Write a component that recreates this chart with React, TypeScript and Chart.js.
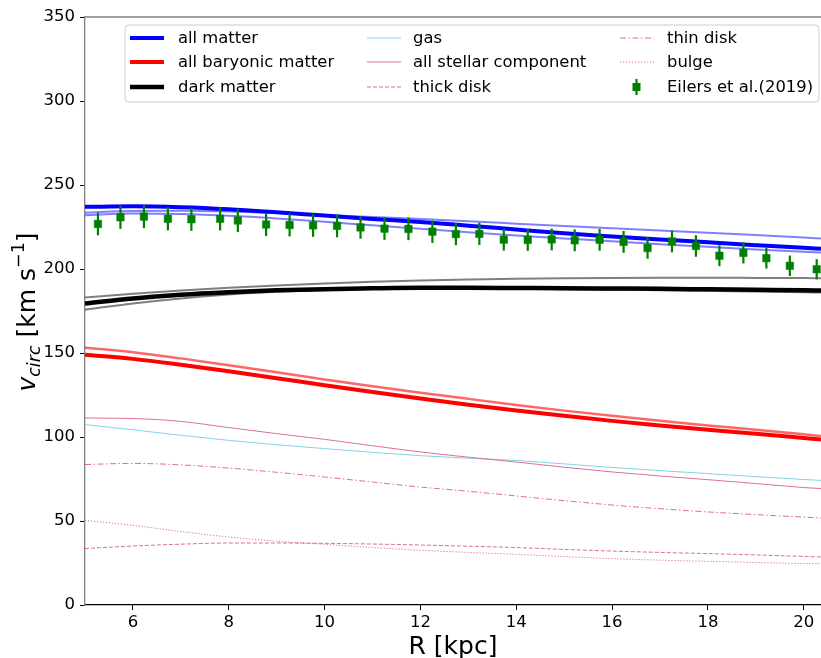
import React, { useEffect, useRef } from 'react';
import { Chart, registerables } from 'chart.js';
Chart.register(...registerables);

const FONT = '"DejaVu Sans", sans-serif';

// Model radii [kpc]
const R = [5, 6, 7, 8, 9, 10, 11, 12, 13, 14, 15, 16, 17, 18, 19, 20, 20.36];

// Circular velocity curves [km/s]
const allMatter = [237, 237.3, 236.8, 235.6, 233.8, 231.8, 229.8, 228, 225.8, 223.5, 221.3, 219.4, 217.6, 215.9, 214.2, 212.6, 212.1];
const allMatterUpper = [233.5, 234.5, 234.6, 234.2, 233.3, 232.2, 231, 229.7, 228.4, 227, 225.6, 224.2, 222.9, 221.6, 220.2, 218.7, 218.2];
const allMatterLower = [232, 233, 232.7, 231.7, 230.1, 228.1, 226, 223.9, 221.9, 220, 218.2, 216.5, 214.8, 213.2, 211.6, 210.2, 209.8];

const darkMatter = [179.5, 182.5, 184.7, 186.2, 187.3, 188, 188.5, 188.8, 188.8, 188.7, 188.6, 188.4, 188.2, 187.9, 187.6, 187.3, 187.2];
const darkMatterUpper = [183, 185.3, 187.2, 188.8, 190.2, 191.4, 192.4, 193.2, 193.8, 194.2, 194.5, 194.7, 194.8, 194.8, 194.7, 194.6, 194.5];
const darkMatterLower = [175.8, 179.5, 182.5, 184.8, 186.4, 187.5, 188.1, 188.4, 188.5, 188.3, 188, 187.7, 187.4, 187, 186.6, 186.2, 186];

const baryonic = [149, 146.5, 143, 139.1, 135, 130.8, 126.8, 122.9, 119.2, 115.8, 112.6, 109.6, 106.9, 104.3, 101.9, 99.4, 98.5];
const baryonicAlt = [153.2, 150.5, 146.8, 142.7, 138.5, 134.2, 130.2, 126.4, 122.7, 119.1, 115.7, 112.6, 109.7, 106.9, 104.3, 101.6, 100.6];

const gas = [107.4, 104.3, 101, 98, 95.4, 93.1, 90.9, 88.9, 87.4, 86, 84, 81.9, 80, 78.2, 76.4, 74.7, 74.2];
const stellar = [111.3, 111, 109.3, 105.6, 102, 98.6, 94.8, 91.1, 88, 85.1, 82, 79.2, 76.8, 74.6, 72.3, 69.9, 69.3];
const thinDisk = [83.6, 84.3, 83.4, 81.5, 79, 76.2, 73.2, 70.2, 67.7, 64.9, 62.1, 59.5, 57.3, 55.4, 53.8, 52.3, 51.8];
const thickDisk = [33.6, 35.1, 36.2, 36.9, 36.9, 36.7, 36.3, 35.7, 35, 34.2, 33.1, 32.1, 31.3, 30.6, 29.8, 28.9, 28.6];
const bulge = [50.4, 47.4, 43.7, 40.5, 38, 36.1, 34.2, 32.6, 31.3, 30.2, 28.8, 27.6, 26.7, 26, 25.3, 24.7, 24.6];

// Eilers et al. (2019) measurements
const eilersR = [5.27, 5.74, 6.23, 6.73, 7.22, 7.82, 8.19, 8.78, 9.27, 9.76, 10.26, 10.75, 11.25, 11.75, 12.25, 12.74, 13.23, 13.74, 14.24, 14.74, 15.22, 15.74, 16.24, 16.74, 17.25, 17.75, 18.24, 18.74, 19.22, 19.71, 20.27];
const eilersV = [226.83, 230.8, 231.2, 229.88, 229.61, 229.91, 228.86, 226.5, 226.2, 225.94, 225.68, 224.73, 224.02, 223.86, 222.23, 220.77, 220.92, 217.47, 217.31, 217.6, 217.07, 217.38, 216.14, 212.52, 216.41, 213.7, 207.89, 209.6, 206.45, 201.91, 199.84];
const eilersErr = [6.8, 6.9, 6.9, 6.9, 6.9, 6.9, 6.9, 6.8, 6.8, 6.8, 6.8, 6.7, 6.7, 6.7, 6.7, 6.6, 6.6, 6.5, 6.5, 6.5, 6.5, 6.5, 6.5, 6.4, 6.5, 6.4, 6.2, 6.3, 6.2, 6.1, 6.0];

const xTicks = [6, 8, 10, 12, 14, 16, 18, 20];

const PINK = '#DB7093';
const SKY = '#87CEEB';
const GREEN = '#008000';

const pts = (ys: number[]) => ys.map((y, i) => ({ x: R[i], y }));

type LegendItem = { label: string; color: string; width: number; dash?: number[]; marker?: boolean };

const legendCols: { hx: number; tx: number; items: LegendItem[] }[] = [
  {
    hx: 130, tx: 178, items: [
      { label: 'all matter', color: '#0000FF', width: 4 },
      { label: 'all baryonic matter', color: '#FF0000', width: 4 },
      { label: 'dark matter', color: '#000000', width: 4.5 },
    ]
  },
  {
    hx: 367, tx: 413, items: [
      { label: 'gas', color: SKY, width: 1 },
      { label: 'all stellar component', color: PINK, width: 1 },
      { label: 'thick disk', color: PINK, width: 1, dash: [4, 2] },
    ]
  },
  {
    hx: 620, tx: 667, items: [
      { label: 'thin disk', color: PINK, width: 1, dash: [6, 2.5, 1.5, 2.5] },
      { label: 'bulge', color: PINK, width: 1, dash: [1.2, 1.8] },
      { label: 'Eilers et al.(2019)', color: GREEN, width: 2, marker: true },
    ]
  },
];
const legendRows = [38, 62, 87];

const customPlugin = {
  id: 'custom',
  beforeDatasetDraw(chart: any, args: any) {
    const ds = chart.data.datasets[args.index];
    if (ds.label !== 'Eilers et al.(2019)') return;
    const { ctx, scales, chartArea } = chart;
    ctx.save();
    ctx.beginPath();
    ctx.rect(chartArea.left, chartArea.top, chartArea.right - chartArea.left, chartArea.bottom - chartArea.top);
    ctx.clip();
    ctx.strokeStyle = GREEN;
    ctx.lineWidth = 2.2;
    for (let i = 0; i < eilersR.length; i++) {
      const x = scales.x.getPixelForValue(eilersR[i]);
      const y1 = scales.y.getPixelForValue(eilersV[i] - eilersErr[i]);
      const y2 = scales.y.getPixelForValue(eilersV[i] + eilersErr[i]);
      ctx.beginPath();
      ctx.moveTo(x, y1);
      ctx.lineTo(x, y2);
      ctx.stroke();
    }
    ctx.restore();
  },
  afterDraw(chart: any) {
    const { ctx, chartArea } = chart;
    ctx.save();
    // top spine
    ctx.strokeStyle = '#808080';
    ctx.lineWidth = 1.3;
    ctx.beginPath();
    ctx.moveTo(chartArea.left, chartArea.top);
    ctx.lineTo(chartArea.right, chartArea.top);
    ctx.stroke();

    // legend box
    const bx = 125, by = 25, bw = 694, bh = 77, r = 4;
    ctx.beginPath();
    ctx.moveTo(bx + r, by);
    ctx.lineTo(bx + bw - r, by);
    ctx.quadraticCurveTo(bx + bw, by, bx + bw, by + r);
    ctx.lineTo(bx + bw, by + bh - r);
    ctx.quadraticCurveTo(bx + bw, by + bh, bx + bw - r, by + bh);
    ctx.lineTo(bx + r, by + bh);
    ctx.quadraticCurveTo(bx, by + bh, bx, by + bh - r);
    ctx.lineTo(bx, by + r);
    ctx.quadraticCurveTo(bx, by, bx + r, by);
    ctx.closePath();
    ctx.fillStyle = 'rgba(255,255,255,0.8)';
    ctx.fill();
    ctx.strokeStyle = '#cccccc';
    ctx.lineWidth = 1;
    ctx.stroke();

    ctx.font = `16.4px ${FONT}`;
    ctx.textBaseline = 'middle';
    ctx.textAlign = 'left';
    legendCols.forEach((col) => {
      col.items.forEach((it, j) => {
        const y = legendRows[j];
        if (it.marker) {
          const cx = col.hx + 16.5;
          ctx.strokeStyle = it.color;
          ctx.lineWidth = 2.2;
          ctx.setLineDash([]);
          ctx.beginPath();
          ctx.moveTo(cx, y - 8);
          ctx.lineTo(cx, y + 8);
          ctx.stroke();
          ctx.fillStyle = it.color;
          ctx.fillRect(cx - 4, y - 4, 8, 8);
        } else {
          ctx.strokeStyle = it.color;
          ctx.lineWidth = it.width;
          ctx.setLineDash(it.dash || []);
          ctx.beginPath();
          ctx.moveTo(col.hx, y);
          ctx.lineTo(col.hx + 34, y);
          ctx.stroke();
        }
        ctx.setLineDash([]);
        ctx.fillStyle = '#000';
        ctx.fillText(it.label, col.tx, y + 1);
      });
    });

    // x title
    ctx.font = `25px ${FONT}`;
    ctx.textAlign = 'center';
    ctx.textBaseline = 'alphabetic';
    ctx.fillStyle = '#000';
    ctx.fillText('R [kpc]', (chartArea.left + 821) / 2, 654);

    // y title (rotated, with sub/superscript)
    const parts = [
      { t: 'v', f: `italic 25px ${FONT}`, dy: 0 },
      { t: 'circ', f: `italic 17.5px ${FONT}`, dy: 5 },
      { t: ' [km s', f: `25px ${FONT}`, dy: 0 },
      { t: '\u22121', f: `17.5px ${FONT}`, dy: -11 },
      { t: ']', f: `25px ${FONT}`, dy: 0 },
    ];
    let total = 0;
    const widths = parts.map((p) => { ctx.font = p.f; const w = ctx.measureText(p.t).width; total += w; return w; });
    ctx.translate(35, 312);
    ctx.rotate(-Math.PI / 2);
    ctx.textAlign = 'left';
    let x = -total / 2;
    parts.forEach((p, i) => {
      ctx.font = p.f;
      ctx.fillText(p.t, x, p.dy);
      x += widths[i];
    });
    ctx.restore();
  },
};

export default function App() {
  const ref = useRef<HTMLCanvasElement>(null);
  useEffect(() => {
    const line = (label: string, ys: number[], color: string, width: number, order: number, dash?: number[]) => ({
      type: 'line' as const,
      label,
      data: pts(ys),
      borderColor: color,
      backgroundColor: color,
      borderWidth: width,
      borderDash: dash || [],
      pointRadius: 0,
      fill: false,
      cubicInterpolationMode: 'monotone' as const,
      order,
    });
    const chart = new Chart(ref.current!, {
      type: 'line',
      data: {
        datasets: [
          line('all matter alt 1', allMatterUpper, 'rgba(0,0,255,0.5)', 2, 20),
          line('all matter alt 2', allMatterLower, 'rgba(0,0,255,0.5)', 2, 19),
          line('all matter', allMatter, '#0000FF', 4, 18),
          line('baryonic alt', baryonicAlt, 'rgba(255,0,0,0.6)', 2.5, 17),
          line('all baryonic matter', baryonic, '#FF0000', 4, 16),
          line('dark matter alt 1', darkMatterUpper, 'rgba(0,0,0,0.5)', 2, 15),
          line('dark matter alt 2', darkMatterLower, 'rgba(0,0,0,0.5)', 2, 14),
          line('dark matter', darkMatter, '#000000', 4.5, 13),
          line('gas', gas, SKY, 1, 12),
          line('all stellar component', stellar, PINK, 1, 11),
          line('thick disk', thickDisk, PINK, 1, 10, [4, 2]),
          line('thin disk', thinDisk, PINK, 1, 9, [6, 2.5, 1.5, 2.5]),
          line('bulge', bulge, PINK, 1, 8, [1.2, 1.8]),
          {
            type: 'scatter' as const,
            label: 'Eilers et al.(2019)',
            data: eilersR.map((x, i) => ({ x, y: eilersV[i] })),
            backgroundColor: GREEN,
            borderColor: GREEN,
            borderWidth: 0.5,
            pointStyle: 'rect',
            pointRadius: 5.3,
            showLine: false,
            order: 1,
          } as any,
        ],
      },
      options: {
        responsive: false,
        animation: false,
        devicePixelRatio: 1,
        layout: { autoPadding: false, padding: { top: 17, right: 0, left: 0, bottom: 0 } },
        plugins: { legend: { display: false }, tooltip: { enabled: false } },
        scales: {
          x: {
            type: 'linear',
            min: 5,
            max: 20.36,
            afterBuildTicks: (s: any) => { s.ticks = xTicks.map((v) => ({ value: v })); },
            afterFit: (s: any) => { s.height = 53; s.paddingLeft = 0; s.paddingRight = 0; },
            ticks: { font: { family: FONT, size: 16.5 }, color: '#000', padding: 3, maxRotation: 0, autoSkip: false },
            grid: { drawOnChartArea: false, drawTicks: true, tickLength: 5, color: '#000', lineWidth: 1 },
            border: { display: true, color: '#000', width: 1.3 },
          },
          y: {
            type: 'linear',
            min: 0,
            max: 350,
            afterFit: (s: any) => { s.width = 85; s.paddingTop = 0; s.paddingBottom = 0; },
            ticks: { stepSize: 50, font: { family: FONT, size: 16.5 }, color: '#000', padding: 5 },
            grid: { drawOnChartArea: false, drawTicks: true, tickLength: 5, color: '#000', lineWidth: 1 },
            border: { display: true, color: '#808080', width: 1.3 },
          },
        },
      },
      plugins: [customPlugin],
    });
    return () => chart.destroy();
  }, []);
  return (
    <div style={{ position: 'absolute', left: 0, top: 0, width: 821, height: 658, background: '#fff' }}>
      <canvas ref={ref} width={821} height={658} style={{ display: 'block' }} />
    </div>
  );
}
